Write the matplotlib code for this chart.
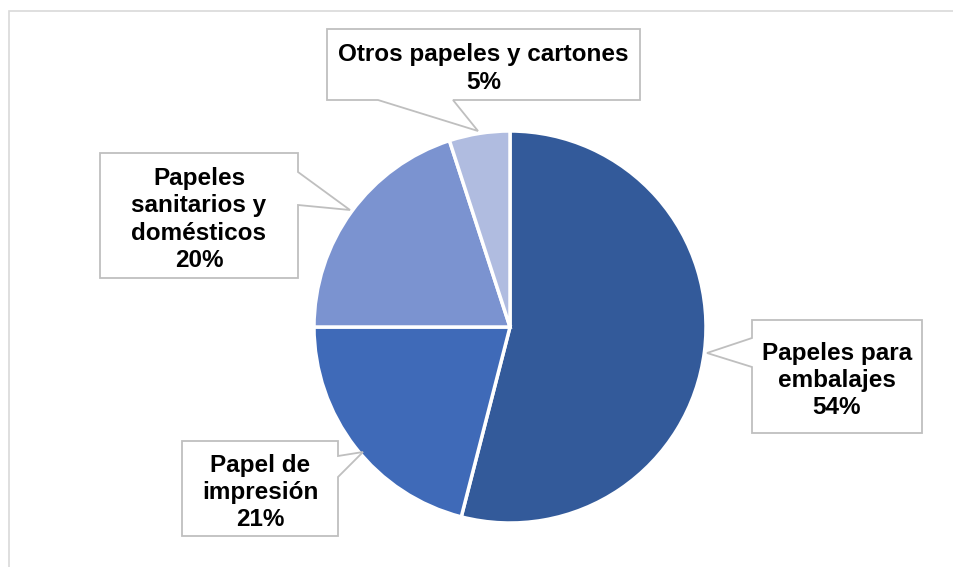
import matplotlib
matplotlib.use("Agg")
import matplotlib.pyplot as plt
from matplotlib.patches import Polygon, Rectangle

# data
labels = ["Papeles para\nembalajes", "Papel de\nimpresión",
          "Papeles\nsanitarios y\ndomésticos", "Otros papeles y cartones"]
shares = [54, 21, 20, 5]
colors = ["#335A9A", "#3F6AB8", "#7B93D0", "#B0BCE0"]

W, H = 954, 567


def fy(py):
    # pixel row -> data y (origin bottom-left)
    return H - py


fig = plt.figure(figsize=(W / 100, H / 100), dpi=100)
ax = fig.add_axes([0, 0, 1, 1])

ax.pie(shares, colors=colors, startangle=90, counterclock=False,
       center=(510, fy(327)), radius=196, frame=True,
       wedgeprops=dict(edgecolor="white", linewidth=2.5))
ax.set_xlim(0, W)
ax.set_ylim(0, H)
ax.set_aspect("auto")
ax.axis("off")

# chart area border
ax.add_patch(Rectangle((9, fy(600)), 1000, 589, fill=False,
                       edgecolor="#D9D9D9", linewidth=1.2, zorder=0))

# callouts: box (x0, y0, x1, y1), pointer side, base points, tip
callouts = [
    dict(box=(752, 320, 922, 433), side="left", base=(338, 367), tip=(707, 353)),
    dict(box=(182, 441, 338, 536), side="right", base=(456, 477), tip=(363, 452)),
    dict(box=(100, 153, 298, 278), side="right", base=(172, 205), tip=(350, 210)),
    dict(box=(327, 29, 640, 100), side="bottom", base=(378, 453), tip=(478, 131)),
]

for lab, val, c in zip(labels, shares, callouts):
    x0, y0, x1, y1 = c["box"]
    b0, b1 = c["base"]
    tx, ty = c["tip"]
    if c["side"] == "left":
        pts = [(x0, y0), (x1, y0), (x1, y1), (x0, y1), (x0, b1), (tx, ty), (x0, b0)]
    elif c["side"] == "right":
        pts = [(x0, y0), (x1, y0), (x1, b0), (tx, ty), (x1, b1), (x1, y1), (x0, y1)]
    else:
        pts = [(x0, y0), (x1, y0), (x1, y1), (b1, y1), (tx, ty), (b0, y1), (x0, y1)]
    pts = [(px, fy(py)) for px, py in pts]
    ax.add_patch(Polygon(pts, closed=True, facecolor="white",
                         edgecolor="#BFBFBF", linewidth=1.3, zorder=3))
    ax.text((x0 + x1) / 2, fy((y0 + y1) / 2 + 4), f"{lab}\n{val}%",
            ha="center", va="center", fontsize=17.5, fontweight="bold",
            family="Liberation Sans", linespacing=1.24, zorder=4)

fig.savefig("out.png", dpi=100)
